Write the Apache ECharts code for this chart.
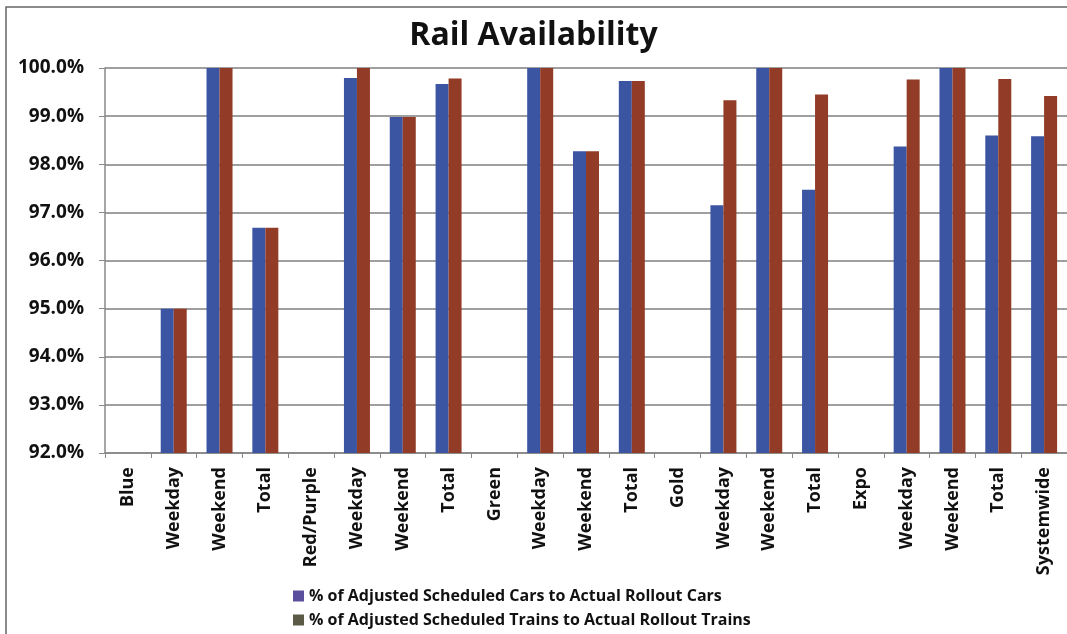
<!DOCTYPE html>
<html>
<head>
<meta charset="utf-8">
<style>
  html, body { margin: 0; padding: 0; background: #fff; }
  #chart { width: 1067px; height: 634px; }
</style>
<script src="https://cdn.jsdelivr.net/npm/echarts@6/dist/echarts.min.js"></script>
</head>
<body>
<div id="chart"></div>
<script>
// Rail availability by line and day type (percent)
const categories = [
  'Blue', 'Weekday', 'Weekend', 'Total',
  'Red/Purple', 'Weekday', 'Weekend', 'Total',
  'Green', 'Weekday', 'Weekend', 'Total',
  'Gold', 'Weekday', 'Weekend', 'Total',
  'Expo', 'Weekday', 'Weekend', 'Total',
  'Systemwide'
];

const carsPct = [
  null, 95.0, 100.0, 96.68,
  null, 99.79, 98.98, 99.67,
  null, 100.0, 98.27, 99.73,
  null, 97.15, 100.0, 97.47,
  null, 98.37, 100.0, 98.60,
  98.58
];

const trainsPct = [
  null, 95.0, 100.0, 96.68,
  null, 100.0, 98.98, 99.78,
  null, 100.0, 98.27, 99.73,
  null, 99.33, 100.0, 99.45,
  null, 99.76, 100.0, 99.77,
  99.42
];

const seriesNames = [
  '% of Adjusted Scheduled Cars to Actual Rollout Cars',
  '% of Adjusted Scheduled Trains to Actual Rollout Trains'
];

const yTicks = { min: 92, max: 100, interval: 1 };

const FONT = '"Open Sans", "DejaVu Sans", sans-serif';
const BLUE = '#3b55a3';
const RED = '#923b26';

const legendText = { fontFamily: FONT, fontSize: 16, fontWeight: 'bold', color: '#111' };

// one legend row per series, stacked under the axis labels
function legendRow(name, iconColor, top) {
  return {
    orient: 'horizontal',
    left: 293,
    top: top,
    padding: 0,
    itemWidth: 11,
    itemHeight: 11,
    itemGap: 6,
    icon: 'rect',
    textStyle: legendText,
    data: [{ name: name, itemStyle: { color: iconColor } }]
  };
}

const chart = echarts.init(document.getElementById('chart'), null, { renderer: 'canvas' });

chart.setOption({
  animation: false,
  backgroundColor: '#ffffff',
  title: {
    text: 'Rail Availability',
    left: 'center',
    top: 15,
    textStyle: { fontFamily: FONT, fontSize: 32, fontWeight: 'bold', color: '#111' }
  },
  graphic: [{
    type: 'rect',
    shape: { x: 6, y: 7, width: 1080, height: 650 },
    style: { fill: 'none', stroke: '#666', lineWidth: 1.5 },
    silent: true,
    z: -1
  }],
  legend: [
    legendRow(seriesNames[0], '#5a4f9c', 588),
    legendRow(seriesNames[1], '#5b5a47', 612)
  ],
  grid: {
    left: 105,
    top: 68,
    width: 966,
    height: 385,
    containLabel: false
  },
  xAxis: {
    type: 'category',
    data: categories,
    boundaryGap: true,
    axisLine: { show: true, lineStyle: { color: '#888', width: 1.5 } },
    axisTick: { show: true, alignWithLabel: false, length: 5, lineStyle: { color: '#888' } },
    axisLabel: {
      rotate: 90,
      interval: 0,
      margin: 14,
      fontFamily: FONT,
      fontSize: 18,
      fontWeight: 'bold',
      color: '#111'
    },
    splitLine: { show: false }
  },
  yAxis: {
    type: 'value',
    min: yTicks.min,
    max: yTicks.max,
    interval: yTicks.interval,
    axisLine: { show: true, lineStyle: { color: '#888', width: 1.5 } },
    axisTick: { show: true, length: 6, lineStyle: { color: '#888' } },
    axisLabel: {
      margin: 21,
      fontFamily: FONT,
      fontSize: 19,
      fontWeight: 'bold',
      color: '#111',
      formatter: v => v.toFixed(1) + '%'
    },
    splitLine: { show: true, lineStyle: { color: '#7f7f7f', width: 1.5 } }
  },
  series: [
    {
      name: seriesNames[0],
      type: 'bar',
      data: carsPct,
      barWidth: 13,
      barGap: '0%',
      itemStyle: { color: BLUE }
    },
    {
      name: seriesNames[1],
      type: 'bar',
      data: trainsPct,
      barWidth: 13,
      barGap: '0%',
      itemStyle: { color: RED }
    }
  ]
});
</script>
</body>
</html>
